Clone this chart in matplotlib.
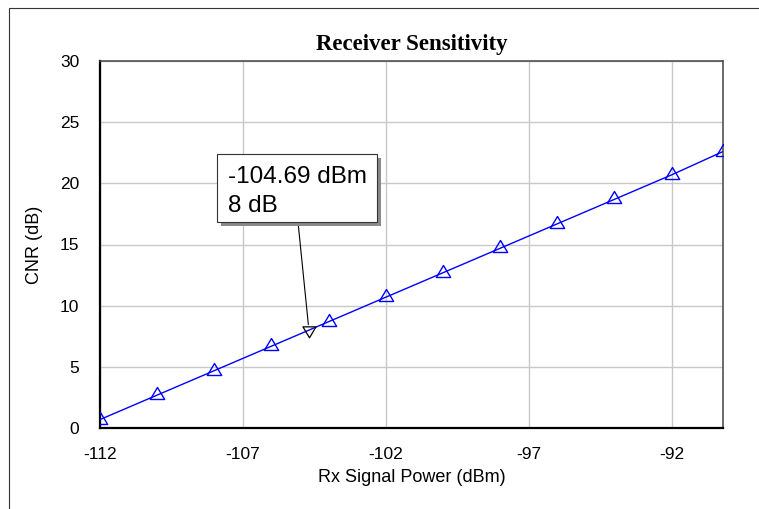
import matplotlib
matplotlib.use("Agg")
import matplotlib.pyplot as plt
from matplotlib.patches import Rectangle
from matplotlib.path import Path

# data
rx_power_dbm = [-112, -110, -108, -106, -104, -102, -100, -98, -96, -94, -92, -90.2]
cnr_db = [0.69, 2.69, 4.69, 6.69, 8.69, 10.69, 12.69, 14.69, 16.69, 18.69, 20.69, 22.6]
marker_point = (-104.69, 8.0)
marker_lines = ["-104.69 dBm", "8 dB"]
x_ticks = [-112, -107, -102, -97, -92]
y_ticks = [0, 5, 10, 15, 20, 25, 30]

plt.rcParams["axes.unicode_minus"] = False

W, H = 759, 509
fig = plt.figure(figsize=(W / 100, H / 100), dpi=100)
ax = fig.add_axes([100 / W, 1 - 428 / H, 623 / W, 367 / H])

sans = "Liberation Sans"


def fx(px):
    return px / W


def fy(py):
    return 1 - py / H


# triangles anchored at their centroid, like the original tool draws them
tri_up = Path([(0, 2 / 3), (-0.6, -1 / 3), (0.6, -1 / 3), (0, 2 / 3)],
              [Path.MOVETO, Path.LINETO, Path.LINETO, Path.CLOSEPOLY])
tri_down = Path([(0, -2 / 3), (-0.6, 1 / 3), (0.6, 1 / 3), (0, -2 / 3)],
                [Path.MOVETO, Path.LINETO, Path.LINETO, Path.CLOSEPOLY])

ax.plot(rx_power_dbm, cnr_db, color="#0000ff", linewidth=1.0, marker=tri_up,
        markersize=11.5, markerfacecolor="none", markeredgecolor="#0000ff",
        markeredgewidth=1.0, zorder=3)

ax.set_xlim(-112, -90.2)
ax.set_ylim(0, 30)
ax.set_xticks(x_ticks)
ax.set_yticks(y_ticks)
ax.tick_params(length=0, labelsize=12.5)
ax.tick_params(axis="y", pad=15)
ax.tick_params(axis="x", pad=14)
for lab in ax.get_xticklabels() + ax.get_yticklabels():
    lab.set_fontfamily(sans)
ax.grid(True, color="#c8c8c8", linewidth=1.0)
ax.set_axisbelow(True)

for side in ("left", "bottom"):
    ax.spines[side].set_color("black")
    ax.spines[side].set_linewidth(1.6)
for side in ("top", "right"):
    ax.spines[side].set_color("#444444")
    ax.spines[side].set_linewidth(1.1)

ax.set_xlabel("Rx Signal Power (dBm)", fontsize=13, fontfamily=sans, labelpad=5)
ax.set_ylabel("CNR (dB)", fontsize=13, fontfamily=sans, labelpad=12)
ax.set_title("Receiver Sensitivity", fontsize=16.5, fontweight="bold",
             fontfamily="Liberation Serif", pad=8)

# marker and callout
ax.plot(*marker_point, marker=tri_down, markersize=10.5, markerfacecolor="none",
        markeredgecolor="black", markeredgewidth=0.9, zorder=4)
ax.annotate("", xy=marker_point, xycoords="data",
            xytext=(fx(298), fy(222)), textcoords="figure fraction",
            arrowprops=dict(arrowstyle="-", color="black", linewidth=0.8,
                            shrinkA=0, shrinkB=4),
            zorder=4)

box_l, box_t, box_r, box_b = 217, 154, 377, 222
fig.add_artist(Rectangle((fx(box_l + 4), fy(box_b + 4)), fx(box_r - box_l), (box_b - box_t) / H,
                         transform=fig.transFigure, facecolor="#8a8a8a",
                         edgecolor="none", zorder=5))
fig.add_artist(Rectangle((fx(box_l), fy(box_b)), fx(box_r - box_l), (box_b - box_t) / H,
                         transform=fig.transFigure, facecolor="white",
                         edgecolor="#333333", linewidth=0.8, zorder=6))
for line, base in zip(marker_lines, (183, 212)):
    fig.text(fx(228), fy(base), line, ha="left", va="baseline",
             fontsize=17.5, fontfamily=sans, zorder=7)

# outer frame around the chart
fig.add_artist(Rectangle((fx(9), -0.1), 1.2, fy(8) + 0.1,
                         transform=fig.transFigure, fill=False,
                         edgecolor="#333333", linewidth=0.8))

fig.savefig("out.png", dpi=100)
